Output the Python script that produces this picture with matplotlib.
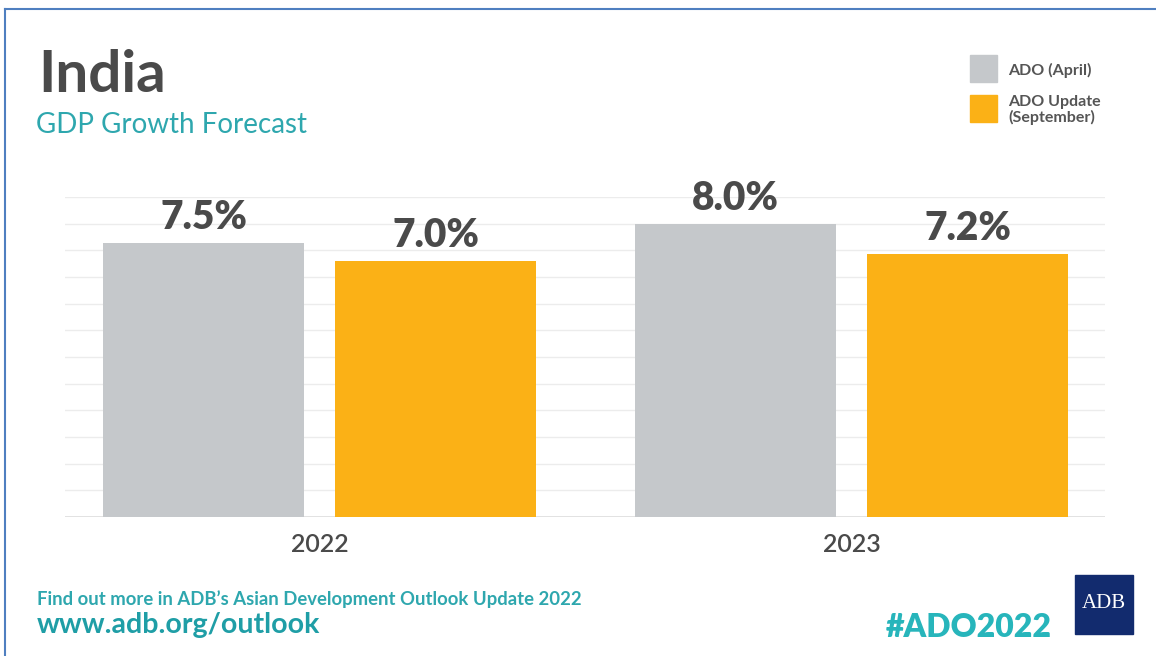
import numpy as np
import matplotlib
matplotlib.use("Agg")
import matplotlib.pyplot as plt
from matplotlib.patches import Rectangle
from matplotlib.lines import Line2D

years = ['2022', '2023']
ado_april = [7.5, 8.0]
ado_update = [7.0, 7.2]
series_names = ['ADO (April)', 'ADO Update\n(September)']

GRAY = '#c5c8cb'
ORANGE = '#fbb116'
TEAL = '#2ea7ae'
DARK = '#4a4a4a'

plt.rcParams['font.family'] = ['Lato', 'DejaVu Sans']

fig = plt.figure(figsize=(11.56, 6.56), dpi=100)
W, H = 1156, 656

def fx(px):
    return px / W

def fy(py):
    return 1 - py / H

# axes: x from 65 to 1105 px, y from 197 to 517 px
ax = fig.add_axes([fx(65), fy(517), fx(1105) - fx(65), fy(197) - fy(517)])

x = np.arange(len(years))
bw = 0.378
off = 0.218
b1 = ax.bar(x - off, ado_april, bw, color=GRAY, zorder=2)
b2 = ax.bar(x + off, ado_update, bw, color=ORANGE, zorder=2)

for bars, vals in ((b1, ado_april), (b2, ado_update)):
    for r, v in zip(bars, vals):
        ax.annotate(f'{v:.1f}%', (r.get_x() + r.get_width() / 2, v),
                    xytext=(0, 5), textcoords='offset points',
                    ha='center', va='bottom', fontsize=28,
                    fontweight='heavy', color=DARK)

ax.set_xlim(-0.479, 1.476)
ax.set_ylim(0, 8.75)
ax.set_yticks(np.linspace(0, 8.75, 13))
ax.yaxis.grid(True, color='#ececec', linewidth=1, zorder=0)
ax.set_axisbelow(True)
ax.tick_params(axis='y', left=False, labelleft=False)
ax.tick_params(axis='x', bottom=False, pad=8)
ax.set_xticks(x)
ax.set_xticklabels(years, fontsize=18, color=DARK, fontweight='semibold')
for s in ax.spines.values():
    s.set_visible(False)
ax.axhline(0, color='#dddddd', linewidth=1.2, zorder=1)

# titles
fig.text(fx(38), fy(92), 'India', fontsize=42, fontweight='bold',
         color=DARK, ha='left', va='baseline')
fig.text(fx(36), fy(133), 'GDP Growth Forecast', fontsize=20,
         color=TEAL, ha='left', va='baseline')

# legend
fig.patches.append(Rectangle((fx(970), fy(82)), fx(27), fy(55) - fy(82),
                             transform=fig.transFigure, color=GRAY))
fig.patches.append(Rectangle((fx(970), fy(122)), fx(27), fy(95) - fy(122),
                             transform=fig.transFigure, color=ORANGE))
fig.text(fx(1008), fy(70), series_names[0], fontsize=11.5, fontweight='bold',
         color='#555555', ha='left', va='center')
fig.text(fx(1008), fy(110), series_names[1], fontsize=11.5, fontweight='bold',
         color='#555555', ha='left', va='center', linespacing=1.0)

# footer
fig.text(fx(37), fy(605), "Find out more in ADB\u2019s Asian Development Outlook Update 2022",
         fontsize=13.3, fontweight='bold', color=TEAL, ha='left', va='baseline')
fig.text(fx(37), fy(633), 'www.adb.org/outlook', fontsize=20.5,
         fontweight='bold', color='#1f9ea6', ha='left', va='baseline')
fig.text(fx(1052), fy(637), '#ADO2022', fontsize=23, fontweight='heavy',
         color='#27b5bb', ha='right', va='baseline')

# ADB logo
fig.patches.append(Rectangle((fx(1075), fy(634)), fx(58), fy(575) - fy(634),
                             transform=fig.transFigure, color='#122b6e'))
fig.text(fx(1104), fy(604), 'ADB', fontsize=15, color='white',
         family='Liberation Serif', ha='center', va='center')

# border
fig.add_artist(Line2D([fx(5), 1], [fy(8.5), fy(8.5)], color='#4f7fc0',
                      linewidth=1.5, transform=fig.transFigure))
fig.add_artist(Line2D([fx(5), fx(5)], [fy(8.5), 0], color='#4f7fc0',
                      linewidth=1.5, transform=fig.transFigure))

fig.savefig('out.png', dpi=100, facecolor='white')
